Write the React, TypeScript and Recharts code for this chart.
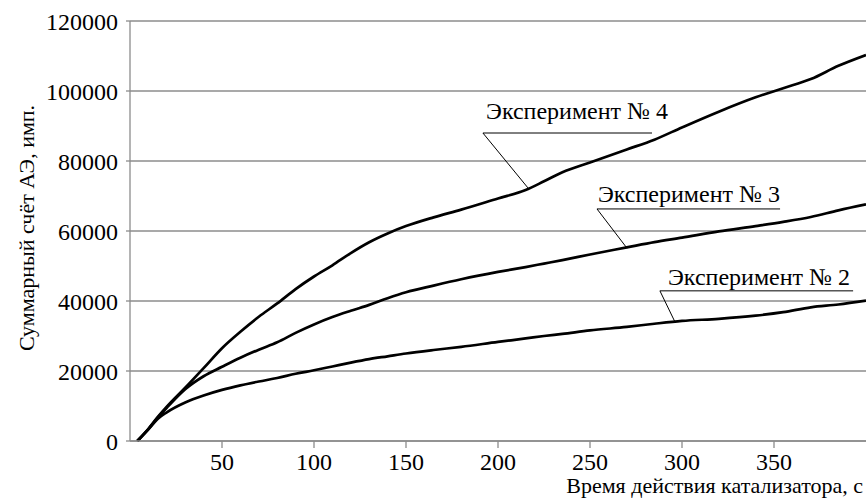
import {
  CartesianGrid,
  Line,
  LineChart,
  ReferenceDot,
  ReferenceLine,
  XAxis,
  YAxis,
} from "recharts";

const FONT = "Liberation Serif, DejaVu Serif, serif";

// время, с
const time = [
  4, 10, 15, 20, 30, 40, 50, 60, 70, 80, 90, 100, 110, 120, 130, 140, 150, 165,
  180, 200, 215, 225, 235, 250, 270, 285, 300, 320, 340, 355, 370, 385, 400,
];

const exp4 = [
  0, 3500, 6800, 9800, 15200, 20800, 26500, 31200, 35500, 39300, 43400, 47000,
  50200, 53700, 56800, 59300, 61400, 63900, 66100, 69300, 71700, 74200, 76800,
  79600, 83300, 86100, 89600, 94100, 98200, 100800, 103400, 107200, 110300,
];

const exp3 = [
  0, 3400, 6600, 9500, 14800, 18500, 21200, 23800, 26100, 28200, 30900, 33300,
  35400, 37200, 38900, 40800, 42500, 44400, 46200, 48300, 49700, 50700, 51700,
  53300, 55300, 56800, 58100, 59900, 61400, 62600, 64000, 65900, 67600,
];

const exp2 = [
  0, 3300, 6300, 8200, 11000, 13000, 14600, 15900, 17000, 18000, 19200, 20200,
  21300, 22400, 23400, 24200, 25000, 26000, 26900, 28300, 29300, 30000, 30600,
  31600, 32600, 33500, 34300, 34900, 35800, 36800, 38200, 39000, 40100,
];

const xTicks = [50, 100, 150, 200, 250, 300, 350];
const yTicks = [0, 20000, 40000, 60000, 80000, 100000, 120000];

// подписи кривых: текст, начало выноски, конец полки, точка на кривой
const notes = [
  { text: "Эксперимент № 4", tx: 193.5, ty: 91900, x1: 191.8, x2: 283.7, y: 88000, px: 216.3, py: 72300 },
  { text: "Эксперимент № 3", tx: 254.3, ty: 68300, x1: 253.8, x2: 353.3, y: 66300, px: 270.1, py: 55100 },
  { text: "Эксперимент № 2", tx: 292.4, ty: 44600, x1: 288, x2: 393, y: 42900, px: 296.2, py: 34000 },
];

const data = time.map((t, i) => ({ t, e4: exp4[i], e3: exp3[i], e2: exp2[i] }));

const series = ["e4", "e3", "e2"];

const tickStyle = { fontFamily: FONT, fontSize: 24 };
const labelStyle = { fontFamily: FONT, fontSize: 22 };

export default function App() {
  return (
    <div style={{ position: "absolute", left: 0, top: 0, width: 866, height: 500, background: "#fff", fontFamily: FONT }}>
      <LineChart width={866} height={500} data={data} margin={{ top: 21, right: 0, left: 0, bottom: 0 }}>
        <CartesianGrid vertical={false} stroke="#8c8c8c" strokeWidth={1.3} />
        <XAxis
          dataKey="t"
          type="number"
          domain={[0, 400]}
          ticks={xTicks}
          height={59}
          tickSize={7}
          tickMargin={5}
          stroke="#8c8c8c"
          strokeWidth={1.3}
          tick={{ fill: "#000", style: tickStyle }}
          label={{
            content: () => (
              <text x={863} y={493} textAnchor="end" fill="#000" style={labelStyle}>
                Время действия катализатора, с
              </text>
            ),
          }}
        />
        <YAxis
          type="number"
          domain={[0, 120000]}
          ticks={yTicks}
          width={130}
          tickSize={4}
          tickMargin={8}
          stroke="#8c8c8c"
          strokeWidth={1.3}
          tick={{ fill: "#000", style: tickStyle }}
          label={{
            content: () => (
              <text
                x={26}
                y={228}
                transform="rotate(-90, 26, 228)"
                textAnchor="middle"
                dominantBaseline="central"
                fill="#000"
                style={labelStyle}
              >
                Суммарный счёт АЭ, имп.
              </text>
            ),
          }}
        />
        {series.map((key) => (
          <Line
            key={key}
            dataKey={key}
            type="monotone"
            stroke="#000"
            strokeWidth={2.7}
            dot={false}
            isAnimationActive={false}
          />
        ))}
        {notes.map((n) => (
          <ReferenceLine
            key={n.text + "-shelf"}
            segment={[{ x: n.x1, y: n.y }, { x: n.x2, y: n.y }]}
            stroke="#000"
            strokeWidth={1}
          />
        ))}
        {notes.map((n) => (
          <ReferenceLine
            key={n.text + "-leader"}
            segment={[{ x: n.x1, y: n.y }, { x: n.px, y: n.py }]}
            stroke="#000"
            strokeWidth={1}
          />
        ))}
        {notes.map((n) => (
          <ReferenceDot
            key={n.text}
            x={n.tx}
            y={n.ty}
            r={0}
            fill="none"
            stroke="none"
            label={(p: any) => (
              <text x={p.viewBox.x} y={p.viewBox.y} fill="#000" style={tickStyle}>
                {n.text}
              </text>
            )}
          />
        ))}
      </LineChart>
    </div>
  );
}
